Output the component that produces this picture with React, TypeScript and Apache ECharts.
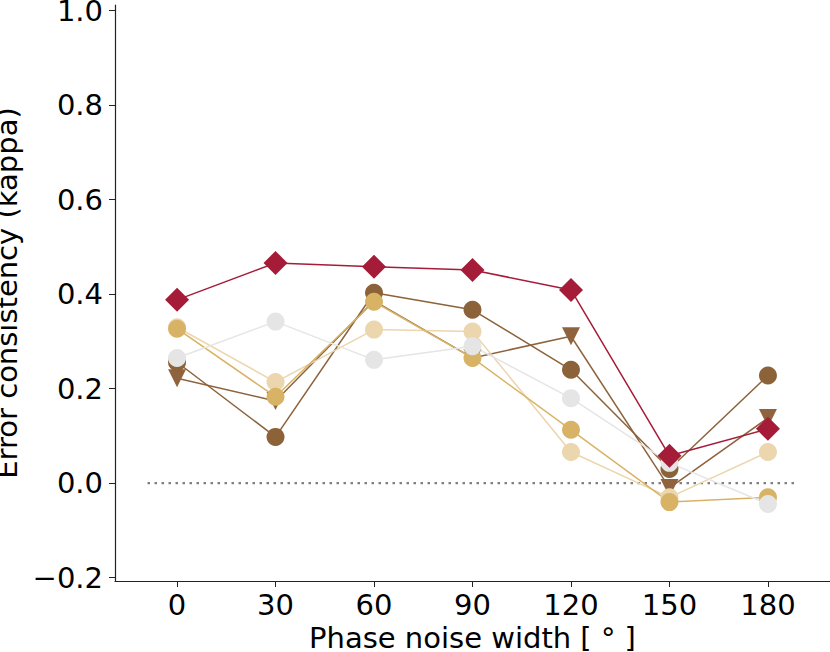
import React, { useEffect, useRef } from "react";
import * as echarts from "echarts";

const xValues = [0, 30, 60, 90, 120, 150, 180];
const xTicks = [0, 30, 60, 90, 120, 150, 180];
const yTicks = [-0.2, 0, 0.2, 0.4, 0.6, 0.8, 1.0];

const triBrown = [0.222, 0.174, 0.386, 0.265, 0.311, -0.01, 0.138];
const darkBrown = [0.256, 0.098, 0.403, 0.367, 0.24, 0.03, 0.228];
const tan = [0.33, 0.214, 0.325, 0.321, 0.066, -0.03, 0.066];
const gold = [0.327, 0.183, 0.384, 0.265, 0.113, -0.04, -0.03];
const gray = [0.265, 0.342, 0.261, 0.29, 0.18, 0.043, -0.044];
const red = [0.388, 0.466, 0.458, 0.451, 0.409, 0.058, 0.115];

const zeroLineX = [-9, 189];

const FONT = "DejaVu Sans";

function pts(vals: number[]) {
  return xValues.map((x, i) => [x, vals[i]]);
}

export default function App() {
  const ref = useRef<HTMLDivElement>(null);
  useEffect(() => {
    if (!ref.current) return;
    const chart = echarts.init(ref.current, null, { renderer: "svg" });
    const mk = (
      name: string,
      vals: number[],
      color: string,
      symbol: string,
      size: number,
      rotate = 0
    ) => ({
      name,
      type: "line",
      data: pts(vals),
      symbol,
      symbolSize: size,
      symbolRotate: rotate,
      showAllSymbol: true,
      lineStyle: { color, width: 1.5 },
      itemStyle: { color, opacity: 1 },
      emphasis: { disabled: true },
    });
    chart.setOption({
      animation: false,
      grid: {
        left: 115,
        right: 0,
        top: 5,
        bottom: 71,
        containLabel: false,
        outerBoundsMode: "none",
      },
      xAxis: {
        type: "value",
        min: -18.9,
        max: 198.9,
        name: "Phase noise width [ ° ]",
        nameLocation: "middle",
        nameGap: 34,
        nameTextStyle: { fontFamily: FONT, fontSize: 29, color: "#000" },
        axisLine: { show: true, onZero: false, lineStyle: { color: "#222", width: 1.2 } },
        axisTick: { show: true, length: 6, customValues: xTicks, lineStyle: { color: "#222" } },
        axisLabel: {
          customValues: xTicks,
          fontFamily: FONT,
          fontSize: 29,
          color: "#000",
          margin: 9,
        },
        splitLine: { show: false },
      },
      yAxis: {
        type: "value",
        min: -0.207,
        max: 1.012,
        name: "Error consistency (kappa)",
        nameLocation: "middle",
        nameGap: 77,
        nameRotate: 90,
        nameTextStyle: { fontFamily: FONT, fontSize: 29, color: "#000" },
        axisLine: { show: true, onZero: false, lineStyle: { color: "#222", width: 1.2 } },
        axisTick: { show: true, length: 6, customValues: yTicks, lineStyle: { color: "#222" } },
        axisLabel: {
          customValues: yTicks,
          fontFamily: FONT,
          fontSize: 29,
          color: "#000",
          margin: 12,
          formatter: (v: number) => (v < 0 ? "\u2212" + Math.abs(v).toFixed(1) : v.toFixed(1)),
        },
        splitLine: { show: false },
      },
      series: [
        {
          name: "zero",
          type: "line",
          data: zeroLineX.map((x) => [x, 0]),
          symbol: "none",
          lineStyle: { color: "#808080", width: 2.2, type: [2.5, 4.5] },
          emphasis: { disabled: true },
          z: 1,
        },
        mk("triBrown", triBrown, "#8f633d", "triangle", 18, 180),
        mk("darkBrown", darkBrown, "#8c6239", "circle", 18),
        mk("tan", tan, "#ebd6ad", "circle", 18),
        mk("gold", gold, "#d8b365", "circle", 18),
        mk("gray", gray, "#e5e5e5", "circle", 18),
        mk("red", red, "#a51c38", "diamond", 24),
      ],
    });
    return () => chart.dispose();
  }, []);
  return (
    <div
      ref={ref}
      style={{ position: "fixed", left: 0, top: 0, width: 830, height: 652, background: "#fff" }}
    />
  );
}
